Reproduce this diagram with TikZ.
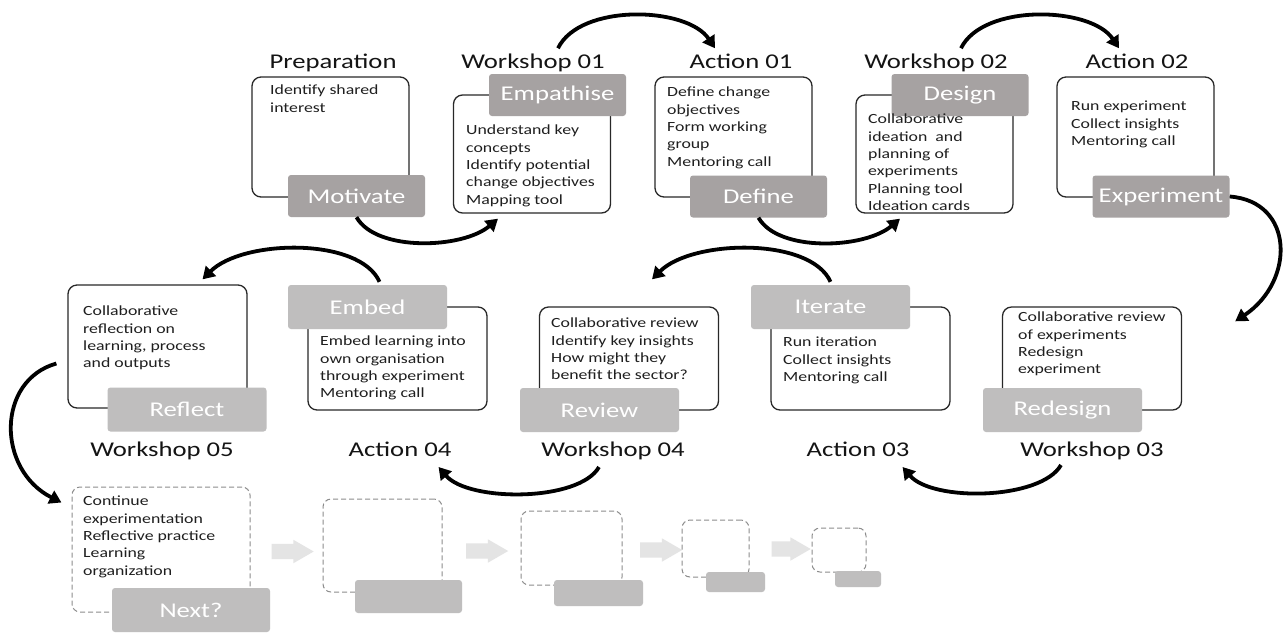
\documentclass[tikz,border=0pt]{standalone}
\usepackage{fontspec}
\setmainfont{Carlito}[FakeStretch=1.27]
\usetikzlibrary{arrows.meta,shapes.arrows}
\definecolor{labelgray}{RGB}{166,162,162}
\definecolor{lightlabel}{RGB}{191,190,190}
\definecolor{boxline}{RGB}{40,40,40}
\definecolor{dashline}{RGB}{140,140,140}
\definecolor{hintarrow}{RGB}{228,228,228}

\begin{document}
\begin{tikzpicture}[x=1pt,y=-1pt,
    stage/.style={draw=boxline,line width=1.3pt,rounded corners=9pt,fill=white,inner sep=0pt},
    topbox/.style={stage,minimum width=157pt,minimum height=120pt},
    midbox/.style={stage,minimum width=179pt,minimum height=103pt},
    ghost/.style={draw=dashline,line width=1pt,dash pattern=on 5pt off 3pt,rounded corners=8pt,inner sep=0pt},
    tag/.style={fill=labelgray,rounded corners=3pt,inner sep=0pt,text=white,font=\fontsize{21}{25}\selectfont,minimum width=137pt,minimum height=42pt},
    softtag/.style={tag,fill=lightlabel,minimum width=159pt,minimum height=44pt},
    title/.style={anchor=base,inner sep=0pt,font=\fontsize{21}{25}\selectfont,text=black!92},
    note/.style={anchor=north west,inner sep=0pt,align=left,font=\fontsize{14}{17.3}\selectfont,text=black!88},
    flow/.style={line width=3.8pt,-{Triangle[length=12pt,width=14pt]}},
    hint/.style={single arrow,fill=hintarrow,inner sep=0pt,minimum height=42pt,single arrow head extend=4pt,single arrow tip angle=60}]
    \path[use as bounding box,fill=white] (0,0) rectangle (1284,633);

    % Preparation
    \node[topbox] (prep) at (330.5,137) {};
    \node[tag] (mot) at (356.5,196) {Motivate};
    \node[title] (prept) at (333,68) {Preparation};
    \node[note] (prepn) at (270,85) {Identify shared\\interest};

    % Workshop 01
    \node[topbox,minimum height=118pt] (w1) at (532,154) {};
    \node[tag] (emp) at (557.5,95) {Empathise};
    \node[title] (w1t) at (533,68) {Workshop 01};
    \node[note] (w1n) at (466,125) {Understand key\\concepts\\Identify potential\\change objectives\\Mapping tool};

    % Action 01
    \node[topbox] (a1) at (733.5,137) {};
    \node[tag] (def) at (758.5,196.5) {Define};
    \node[title] (a1t) at (741,68) {Action 01};
    \node[note] (a1n) at (667,87) {Define change\\objectives\\Form working\\group\\Mentoring call};

    % Workshop 02
    \node[topbox,minimum height=118pt] (w2) at (934.5,154) {};
    \node[tag] (des) at (960,95) {Design};
    \node[title] (w2t) at (936,68) {Workshop 02};
    \node[note] (w2n) at (868,114) {Collaborative\\ideation~ and\\planning of\\experiments\\Planning tool\\Ideation cards};

    % Action 02
    \node[topbox] (a2) at (1135.5,137) {};
    \node[tag] (exp) at (1161,196.5) {Experiment};
    \node[title] (a2t) at (1137,68) {Action 02};
    \node[note] (a2n) at (1071,101) {Run experiment\\Collect insights\\Mentoring call};

    % Workshop 03
    \node[midbox] (w3) at (1092,358.5) {};
    \node[softtag] (red) at (1062.5,410) {Redesign};
    \node[title] (w3t) at (1092,456) {Workshop 03};
    \node[note] (w3n) at (1018,312) {Collaborative review\\of experiments\\Redesign\\experiment};

    % Action 03
    \node[midbox] (a3) at (860.5,358.5) {};
    \node[softtag] (ite) at (830.5,307) {Iterate};
    \node[title] (a3t) at (858,456) {Action 03};
    \node[note] (a3n) at (783,337) {Run iteration\\Collect insights\\Mentoring call};

    % Workshop 04
    \node[midbox] (w4) at (629,358.5) {};
    \node[softtag] (rev) at (599.5,410) {Review};
    \node[title] (w4t) at (613,456) {Workshop 04};
    \node[note] (w4n) at (551,318) {Collaborative review\\Identify key insights\\How might they\\benefit the sector?};

    % Action 04
    \node[midbox] (a4) at (397.5,358.5) {};
    \node[softtag] (emb) at (367.5,307) {Embed};
    \node[title] (a4t) at (400,456) {Action 04};
    \node[note] (a4n) at (320,336) {Embed learning into\\own organisation\\through experiment\\Mentoring call};

    % Workshop 05
    \node[midbox,minimum height=123pt] (w5) at (157.5,346.5) {};
    \node[softtag] (ref) at (187,409.5) {Reflect};
    \node[title] (w5t) at (162,456) {Workshop 05};
    \node[note] (w5n) at (83,306) {Collaborative\\reflection on\\learning, process\\and outputs};

    % Next and fading steps
    \node[ghost,minimum width=178pt,minimum height=125pt] (nx) at (161,549.5) {};
    \node[softtag,minimum width=158pt] (nxt) at (191,610) {Next?};
    \node[note] (nxn) at (83,496) {Continue\\experimentation\\Reflective practice\\Learning\\organization};
    \node[hint] (h1) at (286,551.5) {\rule{0pt}{15pt}};
    \node[ghost,minimum width=119pt,minimum height=93pt] (g1) at (382.5,545.5) {};
    \node[softtag,minimum width=107pt,minimum height=33pt] (g1t) at (408.5,596.5) {};
    \node[hint] (h2) at (480.5,551) {\rule{0pt}{15pt}};
    \node[ghost,minimum width=101pt,minimum height=74pt] (g2) at (571.5,548) {};
    \node[softtag,minimum width=89pt,minimum height=26pt] (g2t) at (598.5,593) {};
    \node[hint] (h3) at (654.5,550) {\rule{0pt}{15pt}};
    \node[ghost,minimum width=67pt,minimum height=57pt] (g3) at (715.5,548.5) {};
    \node[softtag,minimum width=59pt,minimum height=20pt] (g3t) at (735.5,582) {};
    \node[hint,minimum height=39pt] (h4) at (784.5,549) {\rule{0pt}{15pt}};
    \node[ghost,minimum width=54pt,minimum height=44pt] (g4) at (839,550) {};
    \node[softtag,minimum width=46pt,minimum height=16pt] (g4t) at (858,579) {};

    % cycle arrows
    \draw[flow] (mot.south) .. controls +(20,35) and +(-35,30) .. ([xshift=-34pt,yshift=-5pt]w1.south);
    \draw[flow] ([xshift=25pt,yshift=5pt]w1t.north) .. controls +(22,-45) and +(-28,-42) .. ([xshift=-26pt,yshift=5pt]a1t.north);
    \draw[flow] (def.south) .. controls +(20,35) and +(-35,30) .. ([xshift=-34.5pt,yshift=-5pt]w2.south);
    \draw[flow] ([xshift=25pt,yshift=5pt]w2t.north) .. controls +(22,-45) and +(-28,-42) .. ([xshift=-18pt,yshift=5pt]a2t.north);
    \draw[flow] (exp.east) .. controls +(65,5) and +(60,-40) .. ([xshift=53pt,yshift=-15pt]w3.north east);
    \draw[flow] ([xshift=-31pt,yshift=-9pt]w3t.base) .. controls +(-20,35) and +(30,35) .. ([xshift=-7pt,yshift=-11pt]a3t.base east);
    \draw[flow] ([yshift=3pt]ite.north) .. controls +(-20,-45) and +(40,-40) .. ([xshift=23pt,yshift=27pt]w4.north);
    \draw[flow] ([xshift=-14pt,yshift=-11pt]w4t.base) .. controls +(-20,35) and +(30,35) .. ([xshift=-13pt,yshift=-11pt]a4t.base east);
    \draw[flow] ([xshift=12pt,yshift=3pt]emb.north) .. controls +(-20,-45) and +(40,-40) .. ([xshift=45pt,yshift=5pt]w5.north);
    \draw[flow] ([xshift=-11pt,yshift=-17pt]w5.west) .. controls +(-60,17) and +(-65,-33) .. ([xshift=-10pt,yshift=-16pt]nx.north west);
\end{tikzpicture}
\end{document}
